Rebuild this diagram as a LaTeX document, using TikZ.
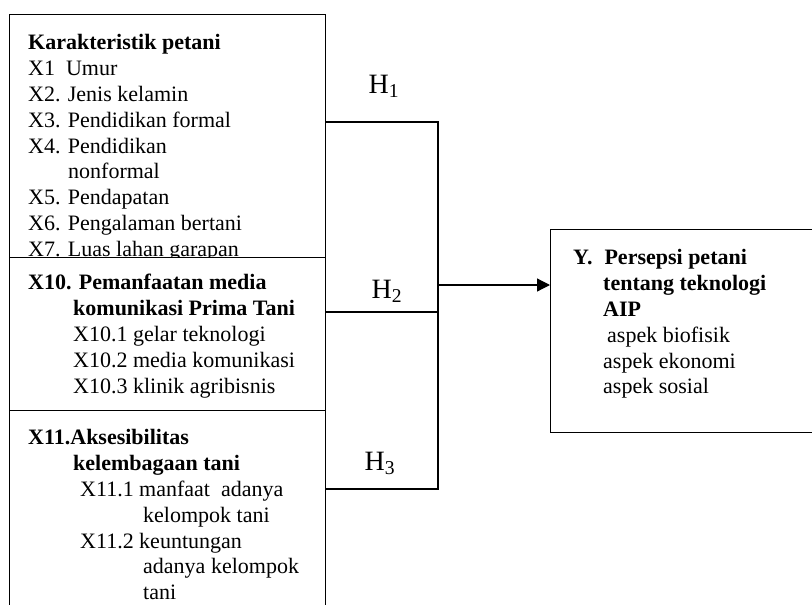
\documentclass[tikz,border=0pt]{standalone}
\usepackage{fontspec}
\setmainfont{Liberation Serif}
\usetikzlibrary{arrows.meta}

\tikzset{
  varbox/.style={draw, line width=1.2pt, fill=white, anchor=north west, inner sep=0pt},
  vartext/.style={anchor=north west, align=left, inner sep=0pt, font=\fontsize{22}{25.9}\selectfont},
  hyplabel/.style={anchor=base, inner sep=0pt, font=\fontsize{28}{32}\selectfont},
  link/.style={line width=1.2pt},
}

\begin{document}
\begin{tikzpicture}[x=1pt, y=-1pt]
  \useasboundingbox (0,0) rectangle (812,605);
  \clip (0,0) rectangle (812,605);

  % Karakteristik petani
  \node[varbox, minimum width=316pt, minimum height=243pt] (karakter) at (9,14) {};
  \node[vartext] (karaktertxt) at (28,34) {\textbf{Karakteristik petani}\\
    X1\ \ Umur\\
    X2. Jenis kelamin\\
    X3. Pendidikan formal\\
    X4. Pendidikan\\
    \hspace*{40pt}nonformal\\
    X5. Pendapatan\\
    X6. Pengalaman bertani\\
    X7. Luas lahan garapan};

  % X10 media komunikasi
  \node[varbox, minimum width=316pt, minimum height=153pt] (media) at (9,257) {};
  \node[vartext] (mediatxt) at (28,274) {\textbf{X10. Pemanfaatan media}\\
    \hspace*{45pt}\textbf{komunikasi Prima Tani}\\
    \hspace*{45pt}X10.1 gelar teknologi\\
    \hspace*{45pt}X10.2 media komunikasi\\
    \hspace*{45pt}X10.3 klinik agribisnis};

  % X11 aksesibilitas
  \node[varbox, minimum width=316pt, minimum height=220pt] (akses) at (9,410) {};
  \node[vartext] (aksestxt) at (28,429) {\textbf{X11.Aksesibilitas}\\
    \hspace*{45pt}\textbf{kelembagaan tani}\\
    \hspace*{52pt}X11.1 manfaat\ \ adanya\\
    \hspace*{115pt}kelompok tani\\
    \hspace*{52pt}X11.2 keuntungan\\
    \hspace*{115pt}adanya kelompok\\
    \hspace*{115pt}tani};

  % Y persepsi
  \node[varbox, minimum width=300pt, minimum height=203pt] (persepsi) at (550,229) {};
  \node[vartext] (persepsitxt) at (573,249) {\textbf{Y.}\hspace{12pt}\textbf{Persepsi petani}\\
    \hspace*{30pt}\textbf{tentang teknologi}\\
    \hspace*{30pt}\textbf{AIP}\\
    \hspace*{34pt}aspek biofisik\\
    \hspace*{30pt}aspek ekonomi\\
    \hspace*{30pt}aspek sosial};

  % hipotesis
  \coordinate (j1) at (438,122);
  \coordinate (j2) at (438,312);
  \coordinate (j3) at (438,489);
  \coordinate (jy) at (438,285);
  \draw[link] (karakter.east |- j1) -- (j1) -- (j3) -- (akses.east |- j3);
  \draw[link] (media.east |- j2) -- (j2);
  \draw[link, -{Triangle[length=13pt, width=13pt]}] (jy) -- (persepsi.west |- jy);

  \node[hyplabel] (h1) at (384,93) {H\textsubscript{1}};
  \node[hyplabel] (h2) at (387,298) {H\textsubscript{2}};
  \node[hyplabel] (h3) at (380,470) {H\textsubscript{3}};
\end{tikzpicture}
\end{document}
